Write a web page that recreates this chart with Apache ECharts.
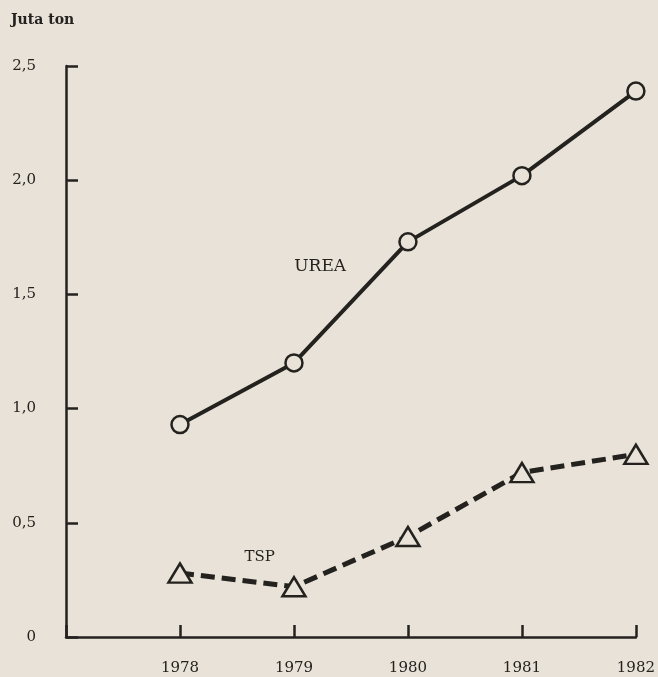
<!DOCTYPE html>
<html>
<head>
    <meta charset="UTF-8">
    <title>Urea dan TSP</title>
    <script src="https://cdn.jsdelivr.net/npm/echarts@6/dist/echarts.min.js"></script>
</head>
<body style="margin:0;background:#e8e2d8;">
<div id="main" style="width:658px;height:677px;"></div>
<script type="text/javascript">
    // data (juta ton)
    var years = [1978, 1979, 1980, 1981, 1982];
    var urea = [0.93, 1.20, 1.73, 2.02, 2.39];
    var tsp = [0.28, 0.22, 0.44, 0.72, 0.80];

    var ink = '#24221f';
    var paper = '#e8e2d8';
    var serif = '"DejaVu Serif", "Liberation Serif", serif';

    function pairs(vals) {
        return years.map(function (y, i) { return [y, vals[i]]; });
    }

    var myChart = echarts.init(document.getElementById('main'));
    var option = {
        backgroundColor: paper,
        animation: false,
        grid: { left: 66, right: 22, top: 66, bottom: 40 },
        graphic: [{
            type: 'text', left: 11, top: 13,
            style: { text: 'Juta ton', font: 'bold 14px ' + serif, fill: ink }
        }],
        xAxis: {
            type: 'value', min: 1977, max: 1982, interval: 1,
            axisLine: { lineStyle: { color: ink, width: 2.5 } },
            axisTick: { inside: true, length: 12, lineStyle: { color: ink, width: 2.5 } },
            splitLine: { show: false },
            axisLabel: {
                color: ink, fontFamily: serif, fontSize: 15, margin: 24,
                formatter: function (v) { return v === 1977 ? '' : String(v); }
            }
        },
        yAxis: {
            type: 'value', min: 0, max: 2.5, interval: 0.5,
            axisLine: { show: true, lineStyle: { color: ink, width: 2.5 } },
            axisTick: { show: true, inside: true, length: 12, lineStyle: { color: ink, width: 2.5 } },
            splitLine: { show: false },
            axisLabel: {
                color: ink, fontFamily: serif, fontSize: 15, margin: 30,
                formatter: function (v) {
                    return v === 0 ? '0' : v.toFixed(1).replace('.', ',');
                }
            }
        },
        series: [{
            name: 'UREA',
            type: 'line',
            data: pairs(urea),
            symbol: 'circle',
            symbolSize: 17,
            lineStyle: { color: ink, width: 4 },
            itemStyle: { color: paper, borderColor: ink, borderWidth: 2.5 },
            markPoint: {
                symbol: 'circle', symbolSize: 0,
                label: { show: true, formatter: 'UREA', color: ink, fontFamily: serif, fontSize: 17 },
                data: [{ coord: [1979.23, 1.62] }]
            }
        }, {
            name: 'TSP',
            type: 'line',
            data: pairs(tsp),
            symbol: 'triangle',
            symbolSize: [23, 19],
            lineStyle: { color: ink, width: 5, type: [14, 7] },
            itemStyle: { color: paper, borderColor: ink, borderWidth: 2.5 },
            markPoint: {
                symbol: 'circle', symbolSize: 0,
                label: { show: true, formatter: 'TSP', color: ink, fontFamily: serif, fontSize: 15 },
                data: [{ coord: [1978.7, 0.35] }]
            }
        }]
    };
    myChart.setOption(option);
</script>
</body>
</html>
